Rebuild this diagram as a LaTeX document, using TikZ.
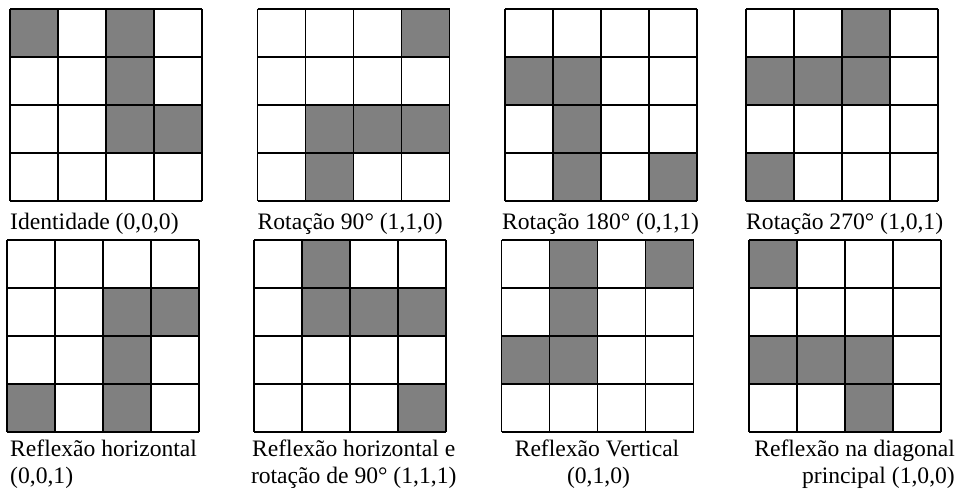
\documentclass[tikz,border=0pt]{standalone}
\usepackage{fontspec}
\setmainfont{Liberation Serif}
\definecolor{cellgray}{HTML}{808080}
\tikzset{
  gridline/.style={draw=black, line width=1.1pt},
  cellfill/.style={fill=cellgray},
  caption/.style={inner sep=0pt, font=\fontsize{23.6}{27}\selectfont},
}
\newcommand{\mygrid}[3]{%
  \foreach \r/\c in {#3} {
    \fill[cellfill] ({#1+48*\c},{#2+48*\r}) rectangle ++(48,48);
  }
  \foreach \i in {0,...,4} {
    \draw[gridline] ({#1+48*\i},#2) -- ++(0,192);
    \draw[gridline] (#1,{#2+48*\i}) -- ++(192,0);
  }
}
\begin{document}
\begin{tikzpicture}[x=1pt, y=-1pt]
\useasboundingbox (0,0) rectangle (957,491);
% row 1
\mygrid{10}{9}{0/0,0/2,1/2,2/2,2/3}
\mygrid{257.5}{9}{0/3,2/1,2/2,2/3,3/1}
\mygrid{505}{9}{1/0,1/1,2/1,3/1,3/3}
\mygrid{746}{9}{0/2,1/0,1/1,1/2,3/0}
% row 2
\mygrid{7}{240}{1/2,1/3,2/2,3/0,3/2}
\mygrid{254}{240}{0/1,1/1,1/2,1/3,3/3}
\mygrid{501.5}{240}{0/1,0/3,1/1,2/0,2/1}
\mygrid{749}{240}{0/0,2/0,2/1,2/2,3/2}
% captions row 1
\node[caption, anchor=base west] (c1) at (10,229) {Identidade (0,0,0)};
\node[caption, anchor=base west] (c2) at (257.5,229) {Rotação 90° (1,1,0)};
\node[caption, anchor=base west] (c3) at (502,229) {Rotação 180° (0,1,1)};
\node[caption, anchor=base west] (c4) at (746,229) {Rotação 270° (1,0,1)};
% captions row 2
\node[caption, anchor=base west] (c5a) at (10,456) {Reflexão horizontal};
\node[caption, anchor=base west] (c5b) at (10,483) {(0,0,1)};
\node[caption, anchor=base] (c6a) at (353.7,456) {Reflexão horizontal e};
\node[caption, anchor=base] (c6b) at (353.7,483) {rotação de 90° (1,1,1)};
\node[caption, anchor=base] (c7a) at (597,456) {Reflexão Vertical};
\node[caption, anchor=base] (c7b) at (598.5,483) {(0,1,0)};
\node[caption, anchor=base east] (c8a) at (955,456) {Reflexão na diagonal};
\node[caption, anchor=base east] (c8b) at (955,483) {principal (1,0,0)};
\end{tikzpicture}
\end{document}
